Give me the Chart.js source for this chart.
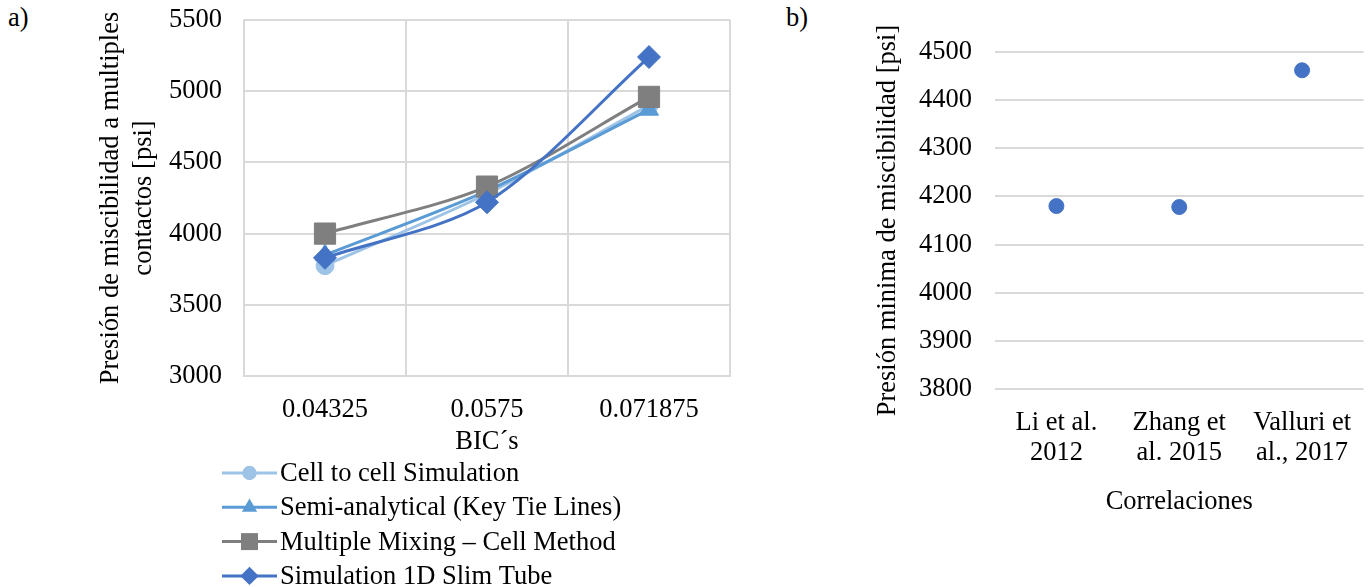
<!DOCTYPE html>
<html>
<head>
<meta charset="utf-8">
<script src="https://cdn.jsdelivr.net/npm/chart.js"></script>
<style>
    body { margin: 0; background: #fff; width: 1372px; height: 587px; overflow: hidden; position: relative; font-family: 'Liberation Serif', 'Times New Roman', serif; }
    .panel { position: absolute; top: 0; height: 587px; }
    #panelA { left: 0; width: 760px; }
    #panelB { left: 770px; width: 602px; }
    .tag { position: absolute; top: 2px; font-size: 26.5px; color: #000; }
</style>
</head>
<body>
<div class="tag" style="left:8px">a)</div>
<div class="tag" style="left:786px">b)</div>
<div class="panel" id="panelA"><canvas id="mmpChart"></canvas></div>
<div class="panel" id="panelB"><canvas id="corrChart"></canvas></div>

<script>
// a) presión de miscibilidad vs BIC
const bicLabels = ['0.04325', '0.0575', '0.071875'];
const cellToCell = [3775, 4280, 4900];
const semiAnalytical = [3850, 4300, 4870];
const multipleMixing = [4000, 4330, 4960];
const slimTube = [3830, 4220, 5240];
const seriesNames = [
    'Cell to cell Simulation',
    'Semi-analytical (Key Tie Lines)',
    'Multiple Mixing \u2013 Cell Method',
    'Simulation 1D Slim Tube'
];

// b) correlaciones
const corrLabels = [['Li et al.', '2012'], ['Zhang et', 'al. 2015'], ['Valluri et', 'al., 2017']];
const corrValues = [4180, 4178, 4462];

const FONT = "'Liberation Serif', 'Times New Roman', serif";
const FONT_SIZE = 26.5;
const GRID = '#D9D9D9';
const TEXT = '#000';

Chart.defaults.font.family = FONT;
Chart.defaults.font.size = FONT_SIZE;
Chart.defaults.color = TEXT;

// plain numbers on the value axis, no thousands separator
const plain = v => String(v);

// draw one marker shape at (x, y)
function marker(ctx, style, x, y, r) {
    ctx.beginPath();
    if (style === 'circle') {
        ctx.arc(x, y, r, 0, Math.PI * 2);
    } else if (style === 'triangle') {
        for (let i = 0; i < 3; i++) {
            const a = i * 2 * Math.PI / 3;
            const px = x + Math.sin(a) * r, py = y - Math.cos(a) * r;
            i ? ctx.lineTo(px, py) : ctx.moveTo(px, py);
        }
        ctx.closePath();
    } else if (style === 'rect') {
        const s = r * Math.SQRT1_2;
        ctx.rect(x - s, y - s, 2 * s, 2 * s);
    } else {
        ctx.moveTo(x - r, y); ctx.lineTo(x, y - r);
        ctx.lineTo(x + r, y); ctx.lineTo(x, y + r);
        ctx.closePath();
    }
    ctx.fill();
}

// legend below the x axis: line sample with marker + name
const lineLegend = {
    id: 'lineLegend',
    afterDraw(chart) {
        const ctx = chart.ctx;
        const x0 = 222, w = 55;
        chart.data.datasets.forEach((ds, i) => {
            const y = chart.chartArea.bottom + 97 + i * 34.3;
            ctx.save();
            ctx.strokeStyle = ds.borderColor;
            ctx.lineWidth = ds.borderWidth;
            ctx.beginPath();
            ctx.moveTo(x0, y);
            ctx.lineTo(x0 + w, y);
            ctx.stroke();
            ctx.fillStyle = ds.pointBackgroundColor;
            marker(ctx, ds.pointStyle, x0 + w / 2, y, ds.pointRadius * 0.8);
            ctx.fillStyle = TEXT;
            ctx.font = FONT_SIZE + 'px ' + FONT;
            ctx.textBaseline = 'middle';
            ctx.fillText(ds.label, x0 + w + 3, y + 1);
            ctx.restore();
        });
    }
};

function series(label, data, color, style, radius, order) {
    return {
        label, data, order,
        borderColor: color,
        backgroundColor: color,
        pointBackgroundColor: color,
        pointBorderColor: color,
        pointBorderWidth: 1,
        borderWidth: 3,
        pointStyle: style,
        pointRadius: radius,
        tension: 0.3
    };
}

new Chart(document.getElementById('mmpChart'), {
    type: 'line',
    data: {
        labels: bicLabels,
        datasets: [
            series(seriesNames[0], cellToCell, '#9DC3E6', 'circle', 9, 3),
            series(seriesNames[1], semiAnalytical, '#5B9BD5', 'triangle', 11, 2),
            series(seriesNames[2], multipleMixing, '#7F7F7F', 'rect', 15, 1),
            series(seriesNames[3], slimTube, '#4472C4', 'rectRot', 11.5, 0)
        ]
    },
    options: {
        responsive: true,
        maintainAspectRatio: false,
        animation: false,
        layout: { padding: { top: 20, right: 30, left: 0, bottom: 129 } },
        plugins: { legend: { display: false }, tooltip: { enabled: false } },
        scales: {
            x: {
                offset: true,
                grid: { color: GRID, lineWidth: 2, offset: true, drawTicks: false },
                border: { color: GRID, width: 2 },
                ticks: { padding: 18, maxRotation: 0 },
                title: { display: true, text: 'BIC\u00B4s', padding: 0 },
                afterFit: s => { s.height = 82; s.paddingLeft = 0; s.paddingRight = 0; }
            },
            y: {
                min: 3000, max: 5500,
                ticks: { stepSize: 500, padding: 22, callback: plain },
                grid: { color: GRID, lineWidth: 2, drawTicks: false },
                border: { color: GRID, width: 2 },
                title: {
                    display: true,
                    text: ['Presión de miscibilidad a multiples', 'contactos [psi]'],
                    font: { lineHeight: 1.27 },
                    padding: { top: 94, bottom: 0 }
                },
                afterFit: s => { s.width = 244; s.paddingTop = 0; s.paddingBottom = 0; }
            }
        }
    },
    plugins: [lineLegend]
});

new Chart(document.getElementById('corrChart'), {
    type: 'line',
    data: {
        labels: corrLabels,
        datasets: [{
            label: 'Correlaciones',
            data: corrValues,
            showLine: false,
            pointStyle: 'circle',
            pointRadius: 7.5,
            pointBackgroundColor: '#4472C4',
            pointBorderColor: '#4472C4',
            pointBorderWidth: 1
        }]
    },
    options: {
        responsive: true,
        maintainAspectRatio: false,
        animation: false,
        layout: { padding: { top: 52, right: 5, left: 0, bottom: 69 } },
        plugins: { legend: { display: false }, tooltip: { enabled: false } },
        scales: {
            x: {
                offset: true,
                grid: { display: false },
                border: { display: false },
                ticks: { padding: 11, maxRotation: 0, font: { lineHeight: 1.13 } },
                title: { display: true, text: 'Correlaciones', padding: 0 },
                afterFit: s => { s.height = 129; s.paddingLeft = 0; s.paddingRight = 0; }
            },
            y: {
                min: 3800, max: 4500,
                ticks: { stepSize: 100, padding: 23, callback: plain },
                grid: { color: GRID, lineWidth: 2, drawTicks: false },
                border: { display: false },
                title: {
                    display: true,
                    text: 'Presión minima de miscibilidad [psi]',
                    padding: { top: 102, bottom: 0 }
                },
                afterFit: s => { s.width = 225; s.paddingTop = 0; s.paddingBottom = 0; }
            }
        }
    }
});
</script>
</body>
</html>
